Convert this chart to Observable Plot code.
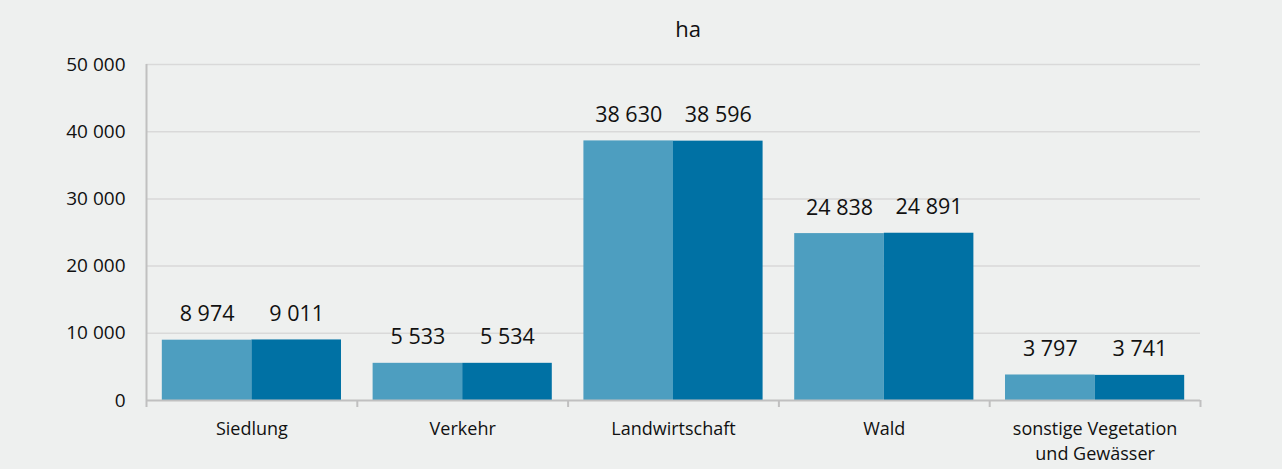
<!DOCTYPE html>
<html>
<head>
<meta charset="utf-8">
<script src="https://cdn.jsdelivr.net/npm/d3@7"></script>
<script src="https://cdn.jsdelivr.net/npm/@observablehq/plot@0.6"></script>
<style>
  html, body { margin: 0; padding: 0; background: #eef0ef; }
  #title { height: 50px; width: 1282px; box-sizing: border-box; padding-left: 94px; text-align: center;
           font-family: "Open Sans", sans-serif; font-size: 22px; line-height: 56px; color: #111; }
  svg { display: block; }
</style>
</head>
<body>
<div id="title">ha</div>
<div id="chart"></div>
<script>
const categories = ["Siedlung", "Verkehr", "Landwirtschaft", "Wald", "sonstige Vegetation\nund Gewässer"];
const series = ["Reihe 1", "Reihe 2"];
const values1 = [8974, 5533, 38630, 24838, 3797];
const values2 = [9011, 5534, 38596, 24891, 3741];
const yTicks = [0, 10000, 20000, 30000, 40000, 50000];
const colors = ["#4d9ec0", "#0071a4"];

const locale = d3.formatLocale({thousands: "\u00a0", grouping: [3], decimal: ","});
const fmt = locale.format(",d");

const data = categories.flatMap((c, i) => [
  {i, c, s: 0, v: values1[i]},
  {i, c, s: 1, v: values2[i]}
]);

const font = "Open Sans, sans-serif";

const chart = Plot.plot({
  width: 1282,
  height: 419,
  marginLeft: 146,
  marginRight: 82,
  marginTop: 14,
  marginBottom: 69,
  style: {background: "#eef0ef", fontFamily: font, color: "#111", overflow: "visible"},
  x: {type: "linear", domain: [0, categories.length], axis: null},
  y: {domain: [0, 50000], axis: null},
  color: {domain: series, range: colors},
  marks: [
    Plot.ruleY(yTicks.filter(d => d > 0), {stroke: "#d9d9d9", strokeWidth: 1.5}),
    Plot.axisY({ticks: yTicks, tickSize: 0, tickPadding: 21, tickFormat: fmt, fontSize: 19, fill: "#111", label: null}),
    Plot.rectY(data, {
      x1: d => d.i + 0.075 + d.s * 0.425,
      x2: d => d.i + 0.5 + d.s * 0.425,
      y1: 0, y2: "v",
      fill: d => series[d.s]
    }),
    Plot.text(data, {
      x: d => d.i + 0.2875 + d.s * 0.425,
      y: "v",
      text: d => fmt(d.v),
      lineAnchor: "bottom",
      dy: -19,
      fontSize: 21.5,
      fill: "#111"
    }),
    Plot.ruleX([0], {y1: 0, y2: 50000, stroke: "#c0c0c0", strokeWidth: 2}),
    Plot.ruleY([0], {stroke: "#c0c0c0", strokeWidth: 2}),
    Plot.axisX({ticks: d3.range(categories.length + 1), tickSize: 7, tickFormat: () => "", stroke: "#c0c0c0", strokeWidth: 2, label: null}),
    Plot.text(categories, {
      x: (d, i) => i + 0.5,
      y: 0,
      dy: 17,
      lineAnchor: "top",
      lineHeight: 1.39,
      fontSize: 18,
      fill: "#111"
    })
  ]
});
document.getElementById("chart").append(chart);
</script>
</body>
</html>
